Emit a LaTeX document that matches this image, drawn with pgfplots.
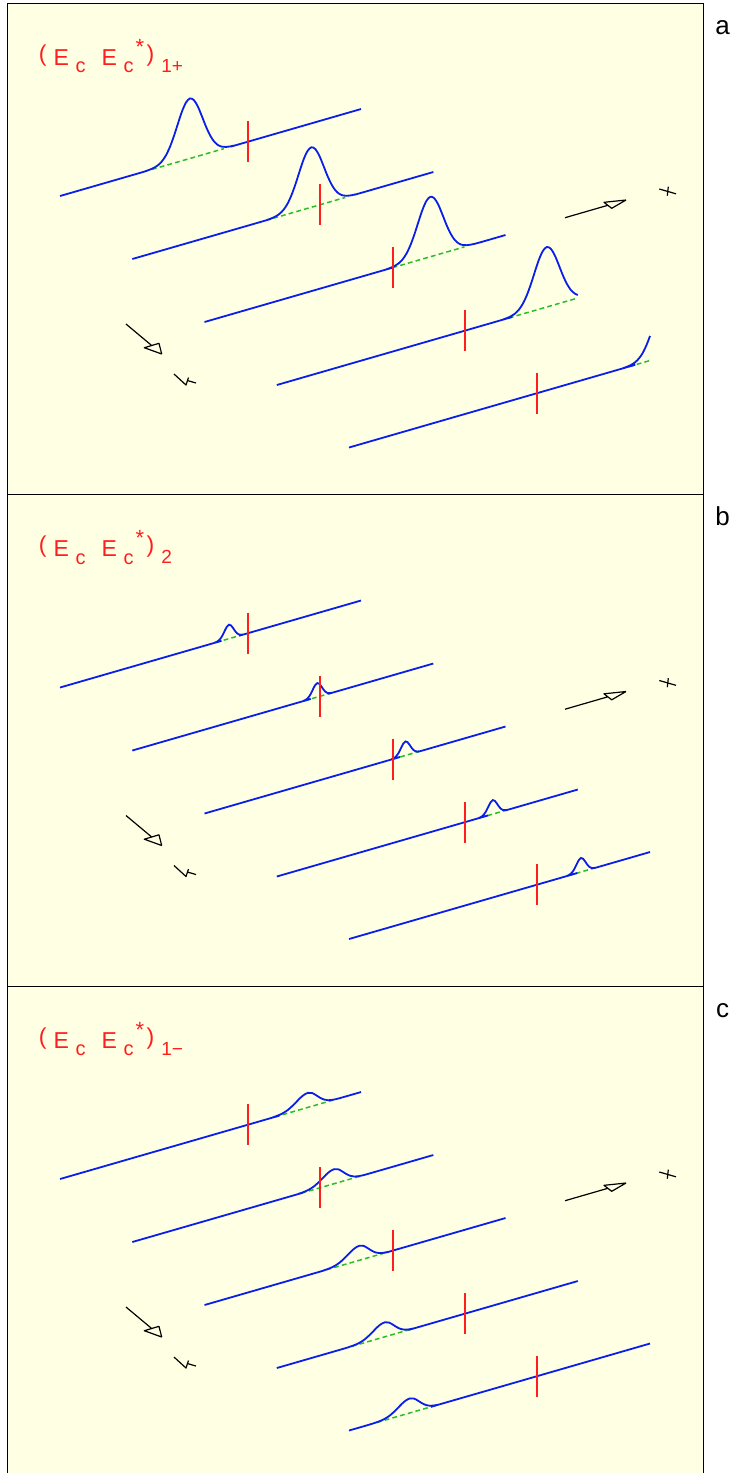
\documentclass[border=0pt]{standalone}
\usepackage{fontspec}
\setmainfont{Liberation Sans}
\usepackage{pgfplots}
\pgfplotsset{compat=1.18}
\usepackage{pgfplotstable}

\definecolor{paper}{RGB}{255,255,228}
\definecolor{tracecol}{RGB}{10,30,235}
\definecolor{tickcol}{RGB}{255,30,30}
\definecolor{basecol}{RGB}{40,190,40}

% Each lane: s = distance along the lane (px), h = height of the profile above it (px)
% --- panel a: (Ec Ec*)_{1+}
\pgfplotstableread{
s h
0 0
80 0
86 0.15
90 0.43
94 1.1
98 2.5
102 5.3
106 10.1
110 17.5
114 27.2
118 38.5
122 49.3
126 57.1
130 60
134 57.1
138 49.3
142 38.5
146 27.2
150 17.5
154 10.1
158 5.3
162 2.5
166 1.1
170 0.43
174 0.15
180 0
301 0
}\laneAone
\pgfplotstableread{
s h
0 0
129 0
135 0.15
139 0.43
143 1.1
147 2.5
151 5.3
155 10.1
159 17.5
163 27.2
167 38.5
171 49.3
175 57.1
179 60
183 57.1
187 49.3
191 38.5
195 27.2
199 17.5
203 10.1
207 5.3
211 2.5
215 1.1
219 0.43
223 0.15
229 0
301 0
}\laneAtwo
\pgfplotstableread{
s h
0 0
176 0
182 0.15
186 0.43
190 1.1
194 2.5
198 5.3
202 10.1
206 17.5
210 27.2
214 38.5
218 49.3
222 57.1
226 60
230 57.1
234 49.3
238 38.5
242 27.2
246 17.5
250 10.1
254 5.3
258 2.5
262 1.1
266 0.43
270 0.15
276 0
301 0
}\laneAthree
\pgfplotstableread{
s h
0 0
220 0
226 0.15
230 0.43
234 1.1
238 2.5
242 5.3
246 10.1
250 17.5
254 27.2
258 38.5
262 49.3
266 57.1
270 60
274 57.1
278 49.3
282 38.5
286 27.2
290 17.5
294 10.1
298 5.3
301 3.1
}\laneAfour
\pgfplotstableread{
s h
0 0
268 0
274 0.15
278 0.43
282 1.1
286 2.5
290 5.3
294 10.1
298 17.5
301 24.6
}\laneAfive

% --- panel b: (Ec Ec*)_2
\pgfplotstableread{
s h
0 0
151 0
155 0.14
157 0.46
159 1.3
161 3.1
163 6.0
165 9.6
167 12.7
169 14
171 12.7
173 9.6
175 6.0
177 3.1
179 1.3
181 0.46
183 0.14
187 0
301 0
}\laneBone
\pgfplotstableread{
s h
0 0
167 0
171 0.14
173 0.46
175 1.3
177 3.1
179 6.0
181 9.6
183 12.7
185 14
187 12.7
189 9.6
191 6.0
193 3.1
195 1.3
197 0.46
199 0.14
203 0
301 0
}\laneBtwo
\pgfplotstableread{
s h
0 0
183 0
187 0.14
189 0.46
191 1.3
193 3.1
195 6.0
197 9.6
199 12.7
201 14
203 12.7
205 9.6
207 6.0
209 3.1
211 1.3
213 0.46
215 0.14
219 0
301 0
}\laneBthree
\pgfplotstableread{
s h
0 0
198 0
202 0.14
204 0.46
206 1.3
208 3.1
210 6.0
212 9.6
214 12.7
216 14
218 12.7
220 9.6
222 6.0
224 3.1
226 1.3
228 0.46
230 0.14
234 0
301 0
}\laneBfour
\pgfplotstableread{
s h
0 0
214 0
218 0.14
220 0.46
222 1.3
224 3.1
226 6.0
228 9.6
230 12.7
232 14
234 12.7
236 9.6
238 6.0
240 3.1
242 1.3
244 0.46
246 0.14
250 0
301 0
}\laneBfive

% --- panel c: (Ec Ec*)_{1-}
\pgfplotstableread{
s h
0 0
204 0
212 0.12
216 0.34
220 0.8
224 1.75
228 3.3
232 5.7
236 8.5
240 11.5
244 13.7
248 14.5
252 13.2
256 9.9
260 6.2
264 3.2
268 1.35
272 0.48
276 0.14
284 0
301 0
}\laneCone
\pgfplotstableread{
s h
0 0
158 0
166 0.12
170 0.34
174 0.8
178 1.75
182 3.3
186 5.7
190 8.5
194 11.5
198 13.7
202 14.5
206 13.2
210 9.9
214 6.2
218 3.2
222 1.35
226 0.48
230 0.14
238 0
301 0
}\laneCtwo
\pgfplotstableread{
s h
0 0
111 0
119 0.12
123 0.34
127 0.8
131 1.75
135 3.3
139 5.7
143 8.5
147 11.5
151 13.7
155 14.5
159 13.2
163 9.9
167 6.2
171 3.2
175 1.35
179 0.48
183 0.14
191 0
301 0
}\laneCthree
\pgfplotstableread{
s h
0 0
64 0
72 0.12
76 0.34
80 0.8
84 1.75
88 3.3
92 5.7
96 8.5
100 11.5
104 13.7
108 14.5
112 13.2
116 9.9
120 6.2
124 3.2
128 1.35
132 0.48
136 0.14
144 0
301 0
}\laneCfour
\pgfplotstableread{
s h
0 0
17 0
25 0.12
29 0.34
33 0.8
37 1.75
41 3.3
45 5.7
49 8.5
53 11.5
57 13.7
61 14.5
65 13.2
69 9.9
73 6.2
77 3.2
81 1.35
85 0.48
89 0.14
97 0
301 0
}\laneCfive

% direction arrows and their axis letters
\pgfplotstableread{
x y
126 324
151.7 345.5
nan nan
161.7 354
144.3 347.7
159 343.3
161.7 354
nan nan
174 374
186 385
188.5 377.5
nan nan
187.3 380.5
196 383
nan nan
565 217.7
607.8 205.3
nan nan
626 200
604 202.3
611.7 208.3
626 200
nan nan
659.3 189
676 193.8
nan nan
668.3 186.7
667.3 195.7
}\guides

\pgfplotsset{
  panel/.style={
    x=0.5pt, y=0.5pt, y dir=reverse,
    xmin=7, xmax=703, ymin=3, ymax=494.5,
    xtick=\empty, ytick=\empty,
    axis background/.style={fill=paper},
    axis line style={line width=0.5pt, black},
    clip=false, anchor=north west,
  },
  curve/.style={color=tracecol, line width=0.9pt, smooth, no markers},
  base/.style={color=basecol, line width=0.75pt, dash pattern=on 2.4pt off 1.6pt, no markers},
  tick/.style={color=tickcol, line width=1pt, no markers},
  guide/.style={black, line width=0.6pt, no markers, line join=round, unbounded coords=jump},
}

% one lane: #1 profile table, #2/#3 start of the lane, #4 span of the dashed base
\newcommand\lane[4]{%
  \addplot[base] table[row sep=\\, x expr={#2+\thisrow{s}}, y expr={#3-0.289*\thisrow{s}}] {s\\ #4};
  \addplot[curve] table[x expr={#2+\thisrow{s}}, y expr={#3-0.289*\thisrow{s}-\thisrow{h}}] {#1};
  \addplot[tick] table[row sep=\\, x expr={#2+188}, y expr={#3-54.3+\thisrow{d}}] {d\\ -20.5\\ 20.5\\};
}

\newcommand\sub[1]{\lower3.9pt\hbox{\fontsize{10}{11}\selectfont #1}}
\newcommand\paren[1]{\raise2pt\hbox{#1}}
\newcommand\paneltitle[1]{%
  \node[anchor=base west, inner sep=0pt, text=tickcol, font=\fontsize{11.5}{13}\selectfont]
    at (axis cs:38.4,65)
    {\paren{(}\kern3.55pt E\kern3.35pt\sub{c}\kern8pt E\kern3.35pt\sub{c}\kern0.95pt\raise5.5pt\hbox{\fontsize{11}{12}\selectfont *}\kern1.3pt\paren{)}\kern3.5pt\lower3.5pt\hbox{\fontsize{9.5}{11}\selectfont #1}};
}
\newcommand\panelletter[1]{%
  \node[anchor=base, inner sep=0pt, font=\fontsize{13}{15}\selectfont] at (axis cs:722.5,34.3) {#1};
}

\begin{document}
\begin{tikzpicture}
\useasboundingbox (0,0) rectangle (369pt,-736.5pt);

\begin{axis}[panel, at={(3.5pt,-1.5pt)}]
  \lane{\laneAone}{60}{196}{92\\ 164\\}
  \lane{\laneAtwo}{132.3}{259}{141\\ 213\\}
  \lane{\laneAthree}{204.5}{322}{188\\ 260\\}
  \lane{\laneAfour}{276.8}{385}{232\\ 301\\}
  \lane{\laneAfive}{349}{447.5}{280\\ 301\\}
  \addplot[guide] table {\guides};
  \paneltitle{1+}
  \panelletter{a}
\end{axis}

\begin{axis}[panel, at={(3.5pt,-247.25pt)}]
  \lane{\laneBone}{60}{196}{156\\ 181\\}
  \lane{\laneBtwo}{132.3}{259}{172\\ 197\\}
  \lane{\laneBthree}{204.5}{322}{188\\ 213\\}
  \lane{\laneBfour}{276.8}{385}{203\\ 228\\}
  \lane{\laneBfive}{349}{447.5}{219\\ 244\\}
  \addplot[guide] table {\guides};
  \paneltitle{2}
  \panelletter{b}
\end{axis}

\begin{axis}[panel, at={(3.5pt,-493pt)}]
  \lane{\laneCone}{60}{196}{215\\ 276\\}
  \lane{\laneCtwo}{132.3}{259}{169\\ 230\\}
  \lane{\laneCthree}{204.5}{322}{122\\ 183\\}
  \lane{\laneCfour}{276.8}{385}{75\\ 136\\}
  \lane{\laneCfive}{349}{447.5}{28\\ 89\\}
  \addplot[guide] table {\guides};
  \paneltitle{1−}
  \panelletter{c}
\end{axis}
\end{tikzpicture}
\end{document}
